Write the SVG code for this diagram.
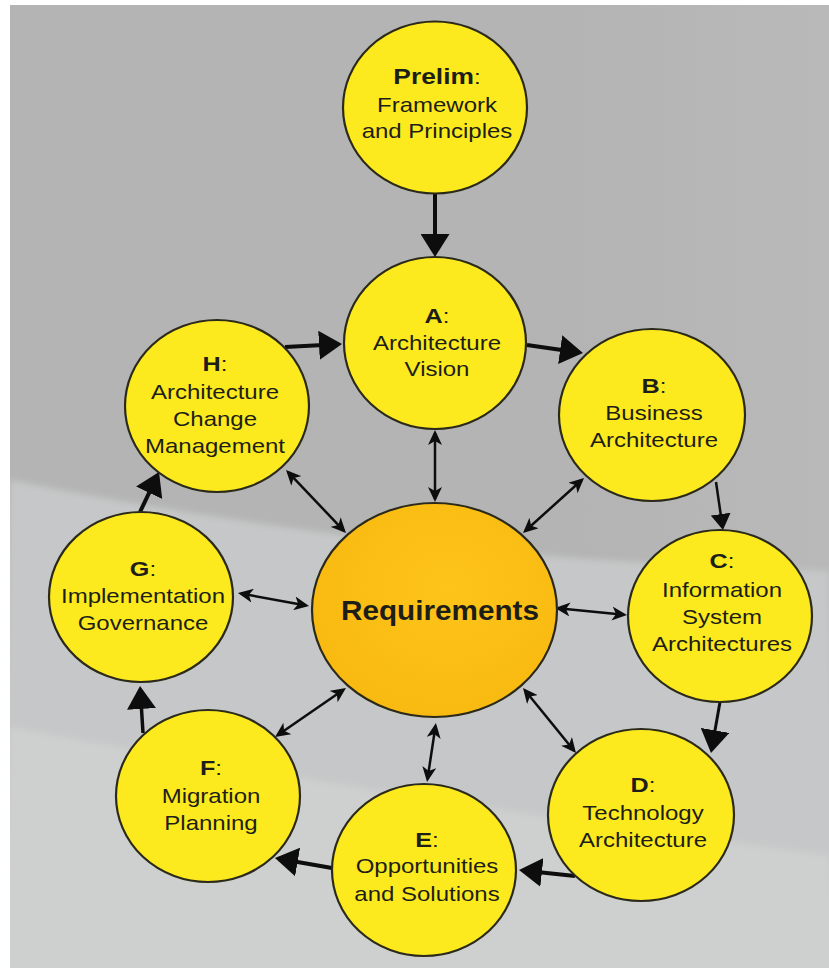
<svg xmlns="http://www.w3.org/2000/svg" width="829" height="970" viewBox="0 0 829 970">
<defs>
<style>
.node{fill:#fcea1e;stroke:#2b2a1a;stroke-width:2.2}
.t{font-family:"Liberation Sans",Arial,sans-serif;font-size:20px;fill:#1e1e18;text-anchor:middle}
.b{font-weight:bold;font-size:21px}
.flow{stroke:#0d0d0d;stroke-width:4;fill:none}
.thin{stroke:#0d0d0d;stroke-width:2.5;fill:none}
</style>
<marker id="big" markerUnits="userSpaceOnUse" markerWidth="23" markerHeight="29" refX="19" refY="14.5" orient="auto" viewBox="0 0 23 29">
<path d="M0,0 L23,14.5 L0,29 Z" fill="#0d0d0d"/>
</marker>
<marker id="mid" markerUnits="userSpaceOnUse" markerWidth="16" markerHeight="20" refX="12" refY="10" orient="auto" viewBox="0 0 16 20">
<path d="M0,0 L16,10 L0,20 Z" fill="#0d0d0d"/>
</marker>
<marker id="dbl" markerUnits="userSpaceOnUse" markerWidth="15" markerHeight="14" refX="12" refY="7" orient="auto-start-reverse" viewBox="0 0 15 14">
<path d="M0,0 L15,7 L0,14 L4,7 Z" fill="#0d0d0d"/>
</marker>
<radialGradient id="req" cx="0.55" cy="0.4" r="0.75">
<stop offset="0" stop-color="#fec41a"/>
<stop offset="1" stop-color="#f7b70e"/>
</radialGradient>
<linearGradient id="topg" x1="0" y1="0" x2="1" y2="0">
<stop offset="0" stop-color="#b4b4b4"/>
<stop offset="0.7" stop-color="#b4b4b4"/>
<stop offset="1" stop-color="#b9b9b9"/>
</linearGradient>
<filter id="soft" x="-5%" y="-5%" width="110%" height="110%">
<feGaussianBlur stdDeviation="3"/>
</filter>
</defs>
<rect x="0" y="0" width="829" height="970" fill="#ffffff"/>
<g id="background">
<rect x="10" y="5" width="819" height="963" fill="url(#topg)"/>
<g filter="url(#soft)">
<path d="M10,480 Q400,560 829,571 L840,980 L0,980 Z" fill="#c6c7c8"/>
<path d="M10,727 Q400,800 829,855 L840,980 L0,980 Z" fill="#cecfcf"/>
</g>
<rect x="0" y="0" width="10" height="970" fill="#ffffff"/>
<rect x="0" y="0" width="829" height="5" fill="#ffffff"/>
<rect x="0" y="968" width="829" height="2" fill="#ffffff"/>
</g>
<g id="connectors">
<path class="flow" d="M435,193 L435,253" marker-end="url(#big)"/>
<path class="flow" d="M285,347 L338,344.2" marker-end="url(#big)"/>
<path class="flow" d="M527,345 L579,352.4" marker-end="url(#big)"/>
<path class="thin" d="M716,482 L722.4,526" marker-end="url(#mid)"/>
<path class="flow" style="stroke-width:3" d="M720,702 L711.7,749.1" marker-end="url(#big)"/>
<path class="flow" d="M575,876 L523,870.4" marker-end="url(#big)"/>
<path class="flow" d="M332,868 L278.9,858.7" marker-end="url(#big)"/>
<path class="flow" style="stroke-width:3.5" d="M143,733 L140.3,690" marker-end="url(#big)"/>
<path class="flow" d="M140,512 L157.3,475.6" marker-end="url(#big)"/>
<path class="thin" d="M435,433 L435,499" marker-start="url(#dbl)" marker-end="url(#dbl)"/>
<path class="thin" d="M288.1,472.2 L343.9,530.8" marker-start="url(#dbl)" marker-end="url(#dbl)"/>
<path class="thin" d="M581.8,480 L525.2,531" marker-start="url(#dbl)" marker-end="url(#dbl)"/>
<path class="thin" d="M240.9,593.5 L306.1,605.5" marker-start="url(#dbl)" marker-end="url(#dbl)"/>
<path class="thin" d="M558,608.3 L624,614.7" marker-start="url(#dbl)" marker-end="url(#dbl)"/>
<path class="thin" d="M343.5,689.7 L277.5,735.3" marker-start="url(#dbl)" marker-end="url(#dbl)"/>
<path class="thin" d="M435.5,726 L427.5,779" marker-start="url(#dbl)" marker-end="url(#dbl)"/>
<path class="thin" d="M524.9,690.3 L574.1,750.7" marker-start="url(#dbl)" marker-end="url(#dbl)"/>
</g>
<g id="prelim">
<ellipse class="node" cx="435" cy="107.5" rx="92" ry="86"/>
<text class="t" transform="translate(437 0) scale(1.2 1)"><tspan x="0" y="84"><tspan class="b" style="font-size:22px">Prelim</tspan>:</tspan><tspan x="0" y="112">Framework</tspan><tspan x="0" y="138">and Principles</tspan></text>
</g>
<g id="A">
<ellipse class="node" cx="435" cy="343" rx="91" ry="86"/>
<text class="t" transform="translate(437 0) scale(1.2 1)"><tspan x="0" y="323"><tspan class="b">A</tspan>:</tspan><tspan x="0" y="350">Architecture</tspan><tspan x="0" y="376">Vision</tspan></text>
</g>
<g id="B">
<ellipse class="node" cx="652" cy="415" rx="93" ry="86"/>
<text class="t" transform="translate(654 0) scale(1.2 1)"><tspan x="0" y="393"><tspan class="b">B</tspan>:</tspan><tspan x="0" y="420">Business</tspan><tspan x="0" y="447">Architecture</tspan></text>
</g>
<g id="C">
<ellipse class="node" cx="720" cy="616" rx="92" ry="86"/>
<text class="t" transform="translate(722 0) scale(1.2 1)"><tspan x="0" y="568"><tspan class="b">C</tspan>:</tspan><tspan x="0" y="597">Information</tspan><tspan x="0" y="624">System</tspan><tspan x="0" y="651">Architectures</tspan></text>
</g>
<g id="D">
<ellipse class="node" cx="641" cy="815" rx="93" ry="86"/>
<text class="t" transform="translate(643 0) scale(1.2 1)"><tspan x="0" y="792"><tspan class="b">D</tspan>:</tspan><tspan x="0" y="820">Technology</tspan><tspan x="0" y="847">Architecture</tspan></text>
</g>
<g id="E">
<ellipse class="node" cx="424" cy="870" rx="92" ry="86"/>
<text class="t" transform="translate(427 0) scale(1.2 1)"><tspan x="0" y="847"><tspan class="b">E</tspan>:</tspan><tspan x="0" y="873">Opportunities</tspan><tspan x="0" y="901">and Solutions</tspan></text>
</g>
<g id="F">
<ellipse class="node" cx="208" cy="796" rx="92" ry="86"/>
<text class="t" transform="translate(211 0) scale(1.2 1)"><tspan x="0" y="775"><tspan class="b">F</tspan>:</tspan><tspan x="0" y="803">Migration</tspan><tspan x="0" y="830">Planning</tspan></text>
</g>
<g id="G">
<ellipse class="node" cx="141" cy="597" rx="92" ry="85"/>
<text class="t" transform="translate(143 0) scale(1.2 1)"><tspan x="0" y="576"><tspan class="b">G</tspan>:</tspan><tspan x="0" y="603">Implementation</tspan><tspan x="0" y="630">Governance</tspan></text>
</g>
<g id="H">
<ellipse class="node" cx="217" cy="406" rx="92" ry="86"/>
<text class="t" transform="translate(215 0) scale(1.2 1)"><tspan x="0" y="371"><tspan class="b">H</tspan>:</tspan><tspan x="0" y="399">Architecture</tspan><tspan x="0" y="426">Change</tspan><tspan x="0" y="453">Management</tspan></text>
</g>
<g id="requirements">
<ellipse class="node" style="fill:url(#req)" cx="434.5" cy="610" rx="122.5" ry="107"/>
<text class="t" style="font-weight:bold;font-size:27px" transform="translate(440 0) scale(1.1 1)"><tspan x="0" y="620">Requirements</tspan></text>
</g>
</svg>
